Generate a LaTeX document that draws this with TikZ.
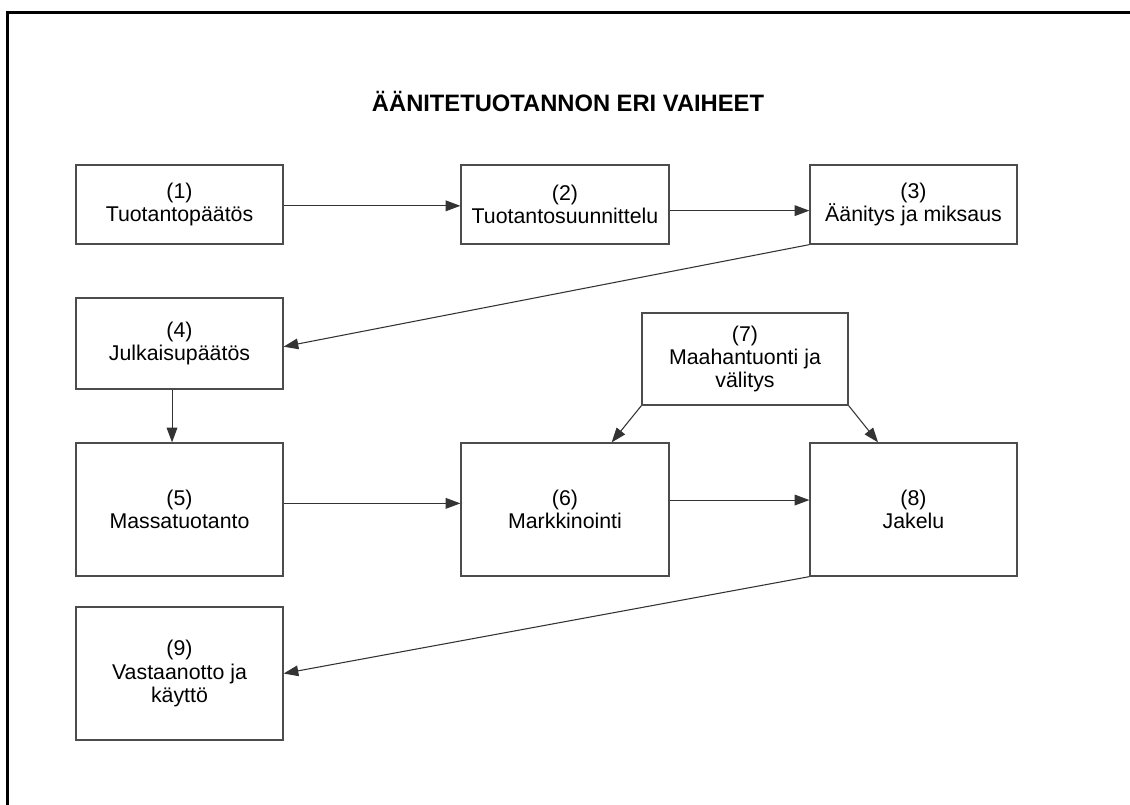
\documentclass[tikz,border=0pt]{standalone}
\usepackage{fontspec}
\setmainfont{Liberation Sans}
\usepackage{tikz}
\usetikzlibrary{arrows.meta}
\pgfdeclarelayer{edgelayer}
\pgfdeclarelayer{nodelayer}
\pgfsetlayers{edgelayer,nodelayer,main}
\tikzstyle{none}=[inner sep=0pt]
\tikzstyle{title}=[inner sep=0pt,font=\fontsize{17.8}{20}\selectfont\bfseries]
\tikzstyle{stage}=[rectangle,draw=black!70,fill=white,line width=0.9pt,align=center,inner sep=2pt,font=\fontsize{16}{17.5}\selectfont]
\tikzstyle{frame}=[-,draw=black,line width=1.6pt]
\tikzstyle{arrow}=[-{Triangle[length=11pt,width=8pt]},draw=black!80,line width=0.8pt]

\begin{document}
\begin{tikzpicture}[x=0.75pt,y=-0.75pt]
	\useasboundingbox (0,0) rectangle (1130,805);
	\begin{pgfonlayer}{nodelayer}
		\node [style=title] (0) at (568, 101) {ÄÄNITETUOTANNON ERI VAIHEET};
		\node [style=stage, minimum width=155.3pt, minimum height=59.3pt] (1) at (179.5, 204.5) {(1)\\Tuotantopäätös};
		\node [style=stage, minimum width=156pt, minimum height=59.3pt] (2) at (565, 204.5) {(2)\\Tuotantosuunnittelu};
		\node [style=stage, minimum width=155.3pt, minimum height=59.3pt] (3) at (913.5, 204.5) {(3)\\Äänitys ja miksaus};
		\node [style=stage, minimum width=155.3pt, minimum height=68.3pt] (4) at (179.5, 343.5) {(4)\\Julkaisupäätös};
		\node [style=stage, minimum width=155.3pt, minimum height=99.8pt] (5) at (179.5, 509.5) {(5)\\Massatuotanto};
		\node [style=stage, minimum width=156pt, minimum height=99.8pt] (6) at (565, 509.5) {(6)\\Markkinointi};
		\node [style=stage, minimum width=154.5pt, minimum height=69pt] (7) at (745, 359) {(7)\\Maahantuonti ja\\välitys};
		\node [style=stage, minimum width=155.3pt, minimum height=99.8pt] (8) at (913.5, 509.5) {(8)\\Jakelu};
		\node [style=stage, minimum width=155.3pt, minimum height=99.8pt] (9) at (179.5, 673.5) {(9)\\Vastaanotto ja\\käyttö};
		\node [style=none] (10) at (7.5, 12.5) {};
		\node [style=none] (11) at (1130, 12.5) {};
		\node [style=none] (12) at (7.5, 805) {};
	\end{pgfonlayer}
	\begin{pgfonlayer}{edgelayer}
		\draw [style=frame] (12.center) to (10.center) to (11.center);
		\draw [style=arrow] ([yshift=-1pt]1.east) to ([yshift=-1pt]2.west);
		\draw [style=arrow] ([yshift=-4.6pt]2.east) to ([yshift=-4.6pt]3.west);
		\draw [style=arrow] (3.south west) to ([yshift=-2.4pt]4.east);
		\draw [style=arrow] ([xshift=-5.6pt]4.south) to ([xshift=-5.6pt]5.north);
		\draw [style=arrow] ([yshift=4.6pt]5.east) to ([yshift=4.6pt]6.west);
		\draw [style=arrow] ([yshift=7.1pt]6.east) to ([yshift=7.1pt]8.west);
		\draw [style=arrow] (7.south west) to ([xshift=35pt]6.north);
		\draw [style=arrow] (7.south east) to ([xshift=-26.6pt]8.north);
		\draw [style=arrow] (8.south west) to (9.east);
	\end{pgfonlayer}
\end{tikzpicture}
\end{document}
